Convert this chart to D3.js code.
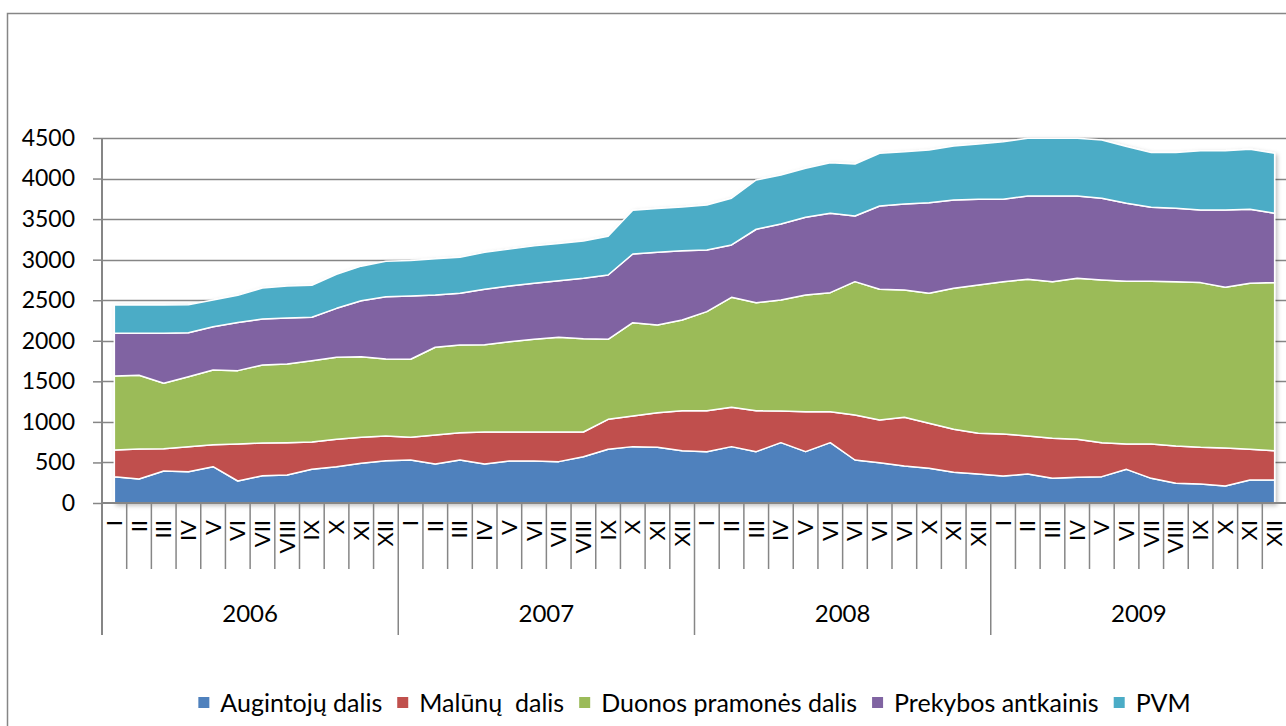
<!DOCTYPE html>
<html>
<head>
<meta charset="utf-8">
<script src="https://cdn.jsdelivr.net/npm/d3@7"></script>
<style>
  body { margin: 0; background: #fff; }
  svg text { font-family: Lato, "Open Sans", sans-serif; fill: #000; }
</style>
</head>
<body>
<div class="chart"></div>
<script>
// month labels as they appear on the axis (2008 repeats "VI")
const monthLabels = [
    "I", "II", "III", "IV", "V", "VI", "VII", "VIII", "IX", "X", "XI", "XII",
    "I", "II", "III", "IV", "V", "VI", "VII", "VIII", "IX", "X", "XI", "XII",
    "I", "II", "III", "IV", "V", "VI", "VI", "VI", "VI", "X", "XI", "XII",
    "I", "II", "III", "IV", "V", "VI", "VII", "VIII", "IX", "X", "XI", "XII"
]
const years = ["2006", "2007", "2008", "2009"]
const yTicks = [0, 500, 1000, 1500, 2000, 2500, 3000, 3500, 4000, 4500]

const seriesNames = ["Augintojų dalis", "Malūnų  dalis", "Duonos pramonės dalis", "Prekybos antkainis", "PVM"]
const colors = ["#4F81BD", "#C0504D", "#9BBB59", "#8064A2", "#4BACC6"]

// monthly values, 2006 I .. 2009 XII
const augintoju = [324, 296, 395, 386, 448, 271, 337, 345, 415, 448, 489, 522,
                   530, 481, 530, 481, 518, 518, 510, 571, 662, 695, 686, 645,
                   633, 695, 633, 744, 633, 744, 530, 497, 456, 428, 378, 357,
                   333, 357, 304, 317, 325, 415, 304, 243, 234, 210, 284, 284]
const maluny = [330, 370, 275, 308, 271, 456, 403, 399, 337, 337, 321, 304,
                280, 357, 337, 394, 357, 357, 365, 304, 370, 378, 428, 493,
                505, 485, 505, 390, 493, 382, 555, 526, 600, 554, 530, 502,
                518, 469, 494, 468, 419, 312, 423, 460, 452, 468, 378, 361]
const duonos = [912, 908, 806, 863, 921, 905, 962, 970, 1003, 1011, 994, 950,
                962, 1082, 1081, 1077, 1114, 1143, 1168, 1151, 986, 1150, 1081, 1118,
                1221, 1356, 1332, 1369, 1439, 1467, 1644, 1612, 1570, 1603, 1739, 1829,
                1878, 1932, 1931, 1985, 2006, 2006, 2006, 2026, 2031, 1982, 2047, 2072]
const prekybos = [526, 518, 616, 543, 534, 592, 567, 567, 535, 604, 690, 768,
                  780, 645, 637, 683, 687, 691, 698, 744, 793, 847, 895, 854,
                  761, 645, 905, 937, 957, 979, 810, 1027, 1061, 1118, 1089, 1057,
                  1016, 1028, 1057, 1016, 1007, 962, 913, 905, 896, 953, 912, 855]
const pvm = [349, 349, 349, 345, 329, 336, 381, 394, 395, 420, 426, 436,
             438, 445, 445, 455, 454, 461, 459, 460, 479, 540, 540, 540,
             554, 576, 608, 604, 605, 624, 641, 650, 645, 650, 666, 682,
             710, 710, 710, 710, 719, 699, 674, 686, 731, 731, 740, 740]

const width = 1286
const height = 726
const axisColor = "#868686"
const plotLeft = 102
const plotRight = 1287
const plotTop = 138
const plotBottom = 503

const keys = ["a", "m", "d", "p", "v"]
const table = augintoju.map((v, i) => ({
    i: i,
    a: v, m: maluny[i], d: duonos[i], p: prekybos[i], v: pvm[i]
}))

const stacked = d3.stack().keys(keys)(table)

const xScale = d3.scaleBand()
    .domain(d3.range(table.length))
    .range([plotLeft, plotRight])
    .paddingInner(0).paddingOuter(0)

const yScale = d3.scaleLinear()
    .domain([0, 4500])
    .range([plotBottom, plotTop])

const bw = xScale.bandwidth()
const xc = i => xScale(i) + bw / 2

let svg = d3.select(".chart")
    .append("svg")
    .attr("width", width)
    .attr("height", height)

const defs = svg.append("defs")
defs.append("filter")
    .attr("id", "shadow")
    .attr("x", "-5%").attr("y", "-5%").attr("width", "110%").attr("height", "110%")
    .append("feDropShadow")
    .attr("dx", 2).attr("dy", 2).attr("stdDeviation", 2)
    .attr("flood-color", "#000").attr("flood-opacity", 0.25)

// outer chart border
svg.append("rect")
    .attr("x", 7.5).attr("y", 13.5)
    .attr("width", 1300).attr("height", 730)
    .attr("fill", "none")
    .attr("stroke", axisColor)
    .attr("stroke-width", 1.5)

// gridlines
svg.append("g")
    .selectAll("line")
    .data(yTicks.slice(1))
    .join("line")
    .attr("x1", plotLeft).attr("x2", plotRight)
    .attr("y1", d => Math.round(yScale(d)) + 0.5)
    .attr("y2", d => Math.round(yScale(d)) + 0.5)
    .attr("stroke", axisColor)
    .attr("stroke-width", 1.5)

// stacked areas
const area = d3.area()
    .x(d => xc(d.data.i))
    .y0(d => yScale(d[0]))
    .y1(d => yScale(d[1]))

svg.append("g")
    .attr("filter", "url(#shadow)")
    .selectAll("path")
    .data(stacked)
    .join("path")
    .attr("d", area)
    .attr("fill", (d, k) => colors[k])
    .attr("stroke", "#fff")
    .attr("stroke-width", 1.5)
    .attr("stroke-linejoin", "round")

// y axis
const yAxis = d3.axisLeft(yScale)
    .tickValues(yTicks)
    .tickSize(9)
    .tickPadding(18)
    .tickFormat(d3.format("d"))

svg.append("g")
    .attr("transform", `translate(${plotLeft},0)`)
    .call(yAxis)
    .call(g => g.select(".domain").remove())
    .call(g => g.selectAll("line").attr("stroke", axisColor).attr("stroke-width", 1.5))
    .call(g => g.selectAll("text").attr("font-size", 23))

svg.append("line")
    .attr("x1", plotLeft).attr("x2", plotLeft)
    .attr("y1", plotTop).attr("y2", 635)
    .attr("stroke", axisColor).attr("stroke-width", 2)

// x axis line
svg.append("line")
    .attr("x1", plotLeft).attr("x2", plotRight)
    .attr("y1", plotBottom).attr("y2", plotBottom)
    .attr("stroke", axisColor).attr("stroke-width", 2)

// category boundaries
svg.append("g")
    .selectAll("line")
    .data(d3.range(table.length + 1))
    .join("line")
    .attr("x1", i => i < table.length ? xScale(i) : plotRight)
    .attr("x2", i => i < table.length ? xScale(i) : plotRight)
    .attr("y1", plotBottom)
    .attr("y2", i => i % 12 === 0 ? 635 : 569)
    .attr("stroke", axisColor)
    .attr("stroke-width", 1.5)

// month labels, rotated
svg.append("g")
    .selectAll("text")
    .data(table)
    .join("text")
    .attr("transform", d => `translate(${xc(d.i) - 1},${plotBottom + 17}) rotate(-90)`)
    .attr("text-anchor", "end")
    .attr("dominant-baseline", "central")
    .attr("font-size", 22)
    .text(d => monthLabels[d.i])

// year labels
svg.append("g")
    .selectAll("text")
    .data(years)
    .join("text")
    .attr("x", (d, k) => (xScale(k * 12) + (k < 3 ? xScale(k * 12 + 12) : plotRight)) / 2)
    .attr("y", 612)
    .attr("text-anchor", "middle")
    .attr("dominant-baseline", "central")
    .attr("font-size", 24)
    .text(d => d)

// legend
const legend = svg.append("g")
let lx = 0
seriesNames.forEach((name, k) => {
    const item = legend.append("g").attr("transform", `translate(${lx},0)`)
    item.append("rect")
        .attr("x", 0).attr("y", -5)
        .attr("width", 11).attr("height", 11)
        .attr("fill", colors[k])
    const t = item.append("text")
        .attr("x", 22).attr("y", 0)
        .attr("dominant-baseline", "central")
        .attr("font-size", 25)
        .style("white-space", "pre")
        .text(name)
    lx += 22 + t.node().getComputedTextLength() + 15
})
const legendWidth = lx - 15
legend.attr("transform", `translate(${(plotLeft + plotRight) / 2 - legendWidth / 2},702)`)
</script>
</body>
</html>
